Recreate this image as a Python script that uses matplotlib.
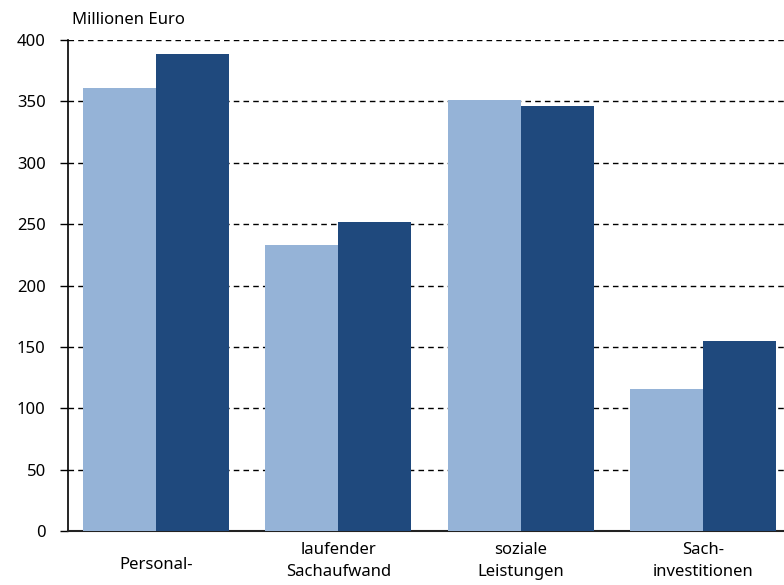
import numpy as np
import matplotlib.pyplot as plt

plt.rcParams['font.family'] = ['Noto Sans', 'DejaVu Sans']

# Daten
kategorien = ['Personal-', 'laufender\nSachaufwand', 'soziale\nLeistungen', 'Sach-\ninvestitionen']
serie_hell = [361, 233, 351, 116]
serie_dunkel = [389, 252, 346, 155]
y_ticks = [0, 50, 100, 150, 200, 250, 300, 350, 400]

fig = plt.figure(figsize=(7.84, 5.85), dpi=100)
ax = fig.add_axes([68/784, 54/585, 716/784, 491/585])

x = np.arange(len(kategorien))
b = 0.4
ax.bar(x - b/2, serie_hell, width=b, color='#95b3d7', zorder=3)
ax.bar(x + b/2, serie_dunkel, width=b, color='#1f497d', zorder=3)

ax.set_xlim(-0.483, 3.445)
ax.set_ylim(0, 400)
ax.set_yticks(y_ticks)
ax.yaxis.grid(True, linestyle=(0, (4, 3)), color='black', linewidth=1, zorder=1)
ax.tick_params(axis='y', length=6, width=1, labelsize=12, pad=10)
ax.tick_params(axis='x', length=0, labelsize=12, pad=8)
ax.set_xticks(x)
ax.set_xticklabels(kategorien, linespacing=1.5)
for lbl in ax.get_xticklabels():
    if '\n' not in lbl.get_text():
        lbl.set_y(-0.03)

for s in ['top', 'right']:
    ax.spines[s].set_visible(False)
ax.spines['left'].set_linewidth(1.2)
ax.spines['bottom'].set_linewidth(1.5)
ax.spines['bottom'].set_color('#222222')

fig.text(72/784, 1 - 20/585, 'Millionen Euro', fontsize=12, va='center', ha='left')

fig.savefig('out.png', dpi=100)
